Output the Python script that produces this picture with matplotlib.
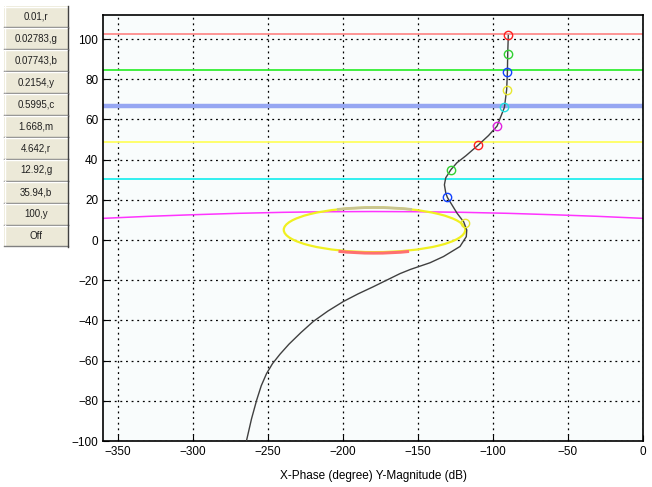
import numpy as np
import matplotlib as mpl
mpl.use('Agg')
from matplotlib import pyplot as plt
from matplotlib.patches import Ellipse, Arc, Rectangle

plt.rcParams['font.family'] = ['Liberation Sans', 'DejaVu Sans']

button_labels = ['0.01,r', '0.02783,g', '0.07743,b', '0.2154,y', '0.5995,c',
                 '1.668,m', '4.642,r', '12.92,g', '35.94,b', '100,y', 'Off']

# open loop curve (phase in degree, magnitude in dB)
curve_phase = [-89.8, -90.2, -90.4, -90.9, -92.4, -97.3, -103, -109.8, -118, -124,
               -128, -131.5, -132.4, -131.5, -130.4, -124, -119.5, -117.5, -117.8,
               -122, -133, -142, -155, -162, -171, -180, -190, -199.8, -210, -219.8,
               -228, -236, -242, -247, -251, -254.5, -257.5, -261, -264.2, -264.8]
curve_mag = [101.8, 92.5, 83.6, 74.8, 66.0, 56.7, 52, 47.3, 42, 38.5,
             35.1, 31, 27.5, 23.5, 21.2, 13.4, 9, 5, 1.7,
             -3.2, -8.2, -11.3, -14.6, -16.7, -20, -23.3, -26.8, -30.6, -35.3, -40.5,
             -46, -51.8, -56.8, -61.5, -66.5, -72.5, -79.5, -89, -99.4, -102]

# frequency markers
marker_phase = [-89.8, -90.2, -90.4, -90.9, -92.4, -97.3, -109.8, -128, -130.4, -118.7]
marker_mag = [101.8, 92.5, 83.6, 74.8, 66.0, 56.7, 47.3, 35.1, 21.2, 8.5]
marker_colors = ['#ff2020', '#30d030', '#1040ff', '#e8e830', '#20e0e0',
                 '#e020e0', '#ff2020', '#30d030', '#1040ff', '#e8e830']

# horizontal levels
level_mag = [102.5, 84.6, 66.5, 48.6, 30.6]
level_colors = ['#ff7878', '#33ee33', '#96a6f2', '#ffff60', '#22eeee']
level_widths = [1.1, 1.3, 3.2, 1.3, 1.3]

# magenta contour
arc_phase = [-360, -330, -300, -270, -240, -210, -180, -150, -120, -90, -60, -30, 0]
arc_mag = [10.8, 11.8, 12.6, 13.3, 13.8, 14.1, 14.2, 14.1, 13.8, 13.3, 12.6, 11.8, 10.8]

# closed loop around -180
loop_center = (-179, 5.1)
loop_width = 121
loop_height = 22.2

fig = plt.figure(figsize=(6.52, 4.87), dpi=100, facecolor='white')
ax = fig.add_axes([103 / 652, 1 - 441 / 487, 540 / 652, 426 / 487])
ax.set_facecolor('#f9fcfc')

for m, c, w in zip(level_mag, level_colors, level_widths):
    ax.axhline(m, color=c, lw=w, zorder=2)

ax.plot(arc_phase, arc_mag, color='#ff33ff', lw=1.1, zorder=2)

ax.add_patch(Ellipse(loop_center, loop_width, loop_height, fill=False,
                     edgecolor='#f0f020', lw=1.6, zorder=3))
ax.add_patch(Arc((loop_center[0], loop_center[1] - 0.5), loop_width, loop_height,
                 theta1=203, theta2=336, edgecolor='#ff7070', lw=2.2, zorder=3))
ax.add_patch(Arc(loop_center, loop_width, loop_height,
                 theta1=22, theta2=158, edgecolor='#c8c490', lw=2.0, zorder=3))

ax.plot(curve_phase, curve_mag, color='#404040', lw=1.0, zorder=4)
for p, m, c in zip(marker_phase, marker_mag, marker_colors):
    ax.plot(p, m, 'o', mfc='none', mec=c, ms=6, mew=1.0, zorder=5)

ax.set_xlim(-360, 0)
ax.set_ylim(-100, 112)
ax.set_xticks(np.arange(-350, 1, 50))
ax.set_yticks(np.arange(-100, 101, 20))
ax.tick_params(direction='in', length=4, labelsize=8.5, colors='black')
ax.grid(True, color='black', linestyle=(0, (1.5, 3)), lw=0.9)
for s in ax.spines.values():
    s.set_linewidth(1.2)
ax.set_xlabel('X-Phase (degree) Y-Magnitude (dB)', fontsize=8.5, labelpad=9)

# button column
bax = fig.add_axes([0, 0, 75 / 652, 1])
bax.set_xlim(0, 75)
bax.set_ylim(487, 0)
bax.axis('off')
x0, w = 4, 64
y0, h = 6, 21.9
for i, lab in enumerate(button_labels):
    y = y0 + i * h
    bax.add_patch(Rectangle((x0, y), w, h, facecolor='#ece9d8', edgecolor='none'))
    bax.plot([x0, x0 + w], [y + 0.5, y + 0.5], color='white', lw=1)
    bax.plot([x0 + 0.5, x0 + 0.5], [y, y + h], color='white', lw=1)
    bax.plot([x0, x0 + w], [y + h - 0.5, y + h - 0.5], color='#808080', lw=1)
    bax.plot([x0 + w - 0.5, x0 + w - 0.5], [y, y + h], color='#404040', lw=1)
    bax.text(x0 + w / 2, y + h / 2, lab, ha='center', va='center', fontsize=7, color='#202020')

fig.savefig('out.png', dpi=100, facecolor='white')
